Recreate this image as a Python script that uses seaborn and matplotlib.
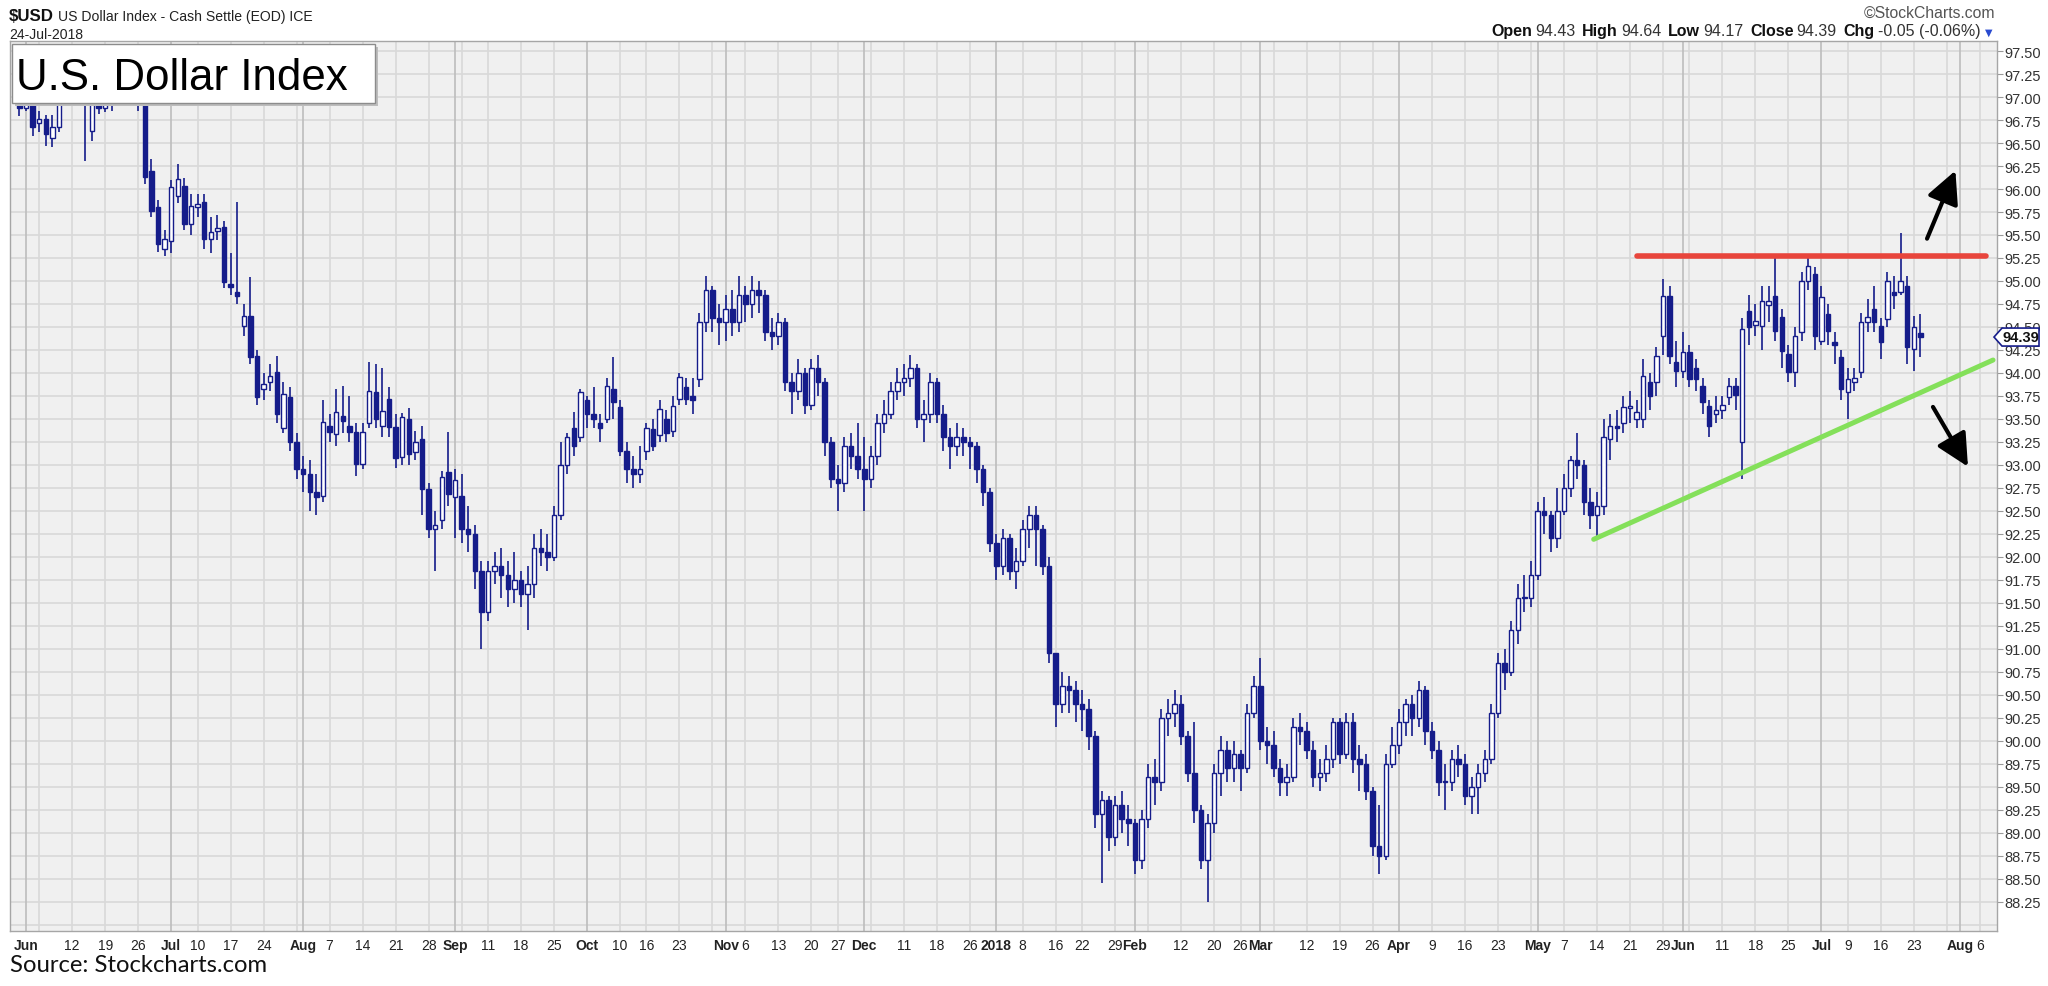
import numpy as np
import pandas as pd
import matplotlib
matplotlib.use("Agg")
import matplotlib.pyplot as plt
import matplotlib.transforms as mtransforms
from matplotlib.patches import Rectangle, Polygon
from matplotlib import font_manager as fm
import seaborn as sns

# ------------------------------------------------------------------ data
first_date = "2017-05-31"
calendar_end = "2018-08-10"
holidays = ["2017-07-04", "2017-09-04", "2017-10-09", "2017-11-23", "2017-12-25",
            "2018-01-01", "2018-01-15", "2018-02-19", "2018-03-30", "2018-05-28",
            "2018-07-04"]

open_ = [
    97.10, 96.88, 97.10,
    96.72, 96.76, 96.56, 96.68, 97.05,
    97.20, 97.15, 96.98, 96.63, 97.20,
    96.88, 97.05, 97.40, 97.30, 97.20,
    97.10, 97.25, 96.20, 95.80, 95.35,
    95.43, 95.92, 96.03, 95.62,
    95.80, 95.86, 95.46, 95.54, 95.59,
    94.97, 94.88, 94.51, 94.62, 94.18,
    93.82, 93.90, 94.01, 93.40, 93.74,
    93.25, 92.95, 92.90, 92.70, 92.66,
    93.42, 93.34, 93.53, 93.42, 93.36,
    93.01, 93.45, 93.79, 93.42, 93.72,
    93.41, 93.09, 93.50, 93.14, 93.28,
    92.74, 92.30, 92.40, 92.92, 92.65,
    92.66, 92.30, 92.25, 91.85,
    91.40, 91.85, 91.90, 91.80, 91.65,
    91.75, 91.60, 91.70, 92.10, 92.05,
    92.00, 92.45, 93.00, 93.40, 93.30,
    93.70, 93.55, 93.45, 93.50, 93.83,
    93.63, 93.15, 92.95, 92.90,
    93.15, 93.39, 93.32, 93.50, 93.37,
    93.72, 93.85, 93.75, 93.93, 94.55,
    94.90, 94.60, 94.55, 94.70, 94.55,
    94.85, 94.75, 94.90, 94.85, 94.45,
    94.40, 94.55, 93.90, 93.80, 94.00,
    93.65, 94.05, 93.90, 93.25,
    92.85, 92.80, 93.20, 93.10, 92.95,
    92.85, 93.10, 93.45, 93.55, 93.80,
    93.90, 93.95, 94.05, 93.50, 93.55,
    93.90, 93.55, 93.30, 93.20, 93.30,
    93.25, 93.20, 92.95, 92.70,
    92.15, 91.90, 92.20, 91.85,
    91.95, 92.30, 92.45, 92.30, 91.90,
    90.95, 90.40, 90.60, 90.55,
    90.40, 90.35, 90.05, 89.20, 89.35,
    88.95, 89.30, 89.15, 89.10, 88.70,
    89.15, 89.60, 89.55, 90.25, 90.30,
    90.40, 90.05, 89.65, 89.25, 88.70,
    89.10, 89.65, 89.90, 89.70,
    89.85, 89.70, 90.30, 90.60, 90.00,
    89.95, 89.70, 89.55, 89.60, 90.15,
    90.10, 89.90, 89.60, 89.65, 89.80,
    90.20, 89.85, 90.20, 89.80, 89.75,
    89.45, 88.85, 88.75, 89.75,
    89.95, 90.20, 90.40, 90.25, 90.55,
    90.10, 89.90, 89.55, 89.55, 89.80,
    89.75, 89.40, 89.50, 89.65, 89.80,
    90.30, 90.85, 90.75, 91.20, 91.55,
    91.55, 91.80, 92.50, 92.45, 92.20,
    92.50, 92.75, 93.05, 93.00, 92.60,
    92.45, 92.55, 93.28, 93.42, 93.45,
    93.62, 93.50, 93.50, 93.90, 93.90,
    94.40, 94.84, 94.12, 94.02,
    94.23, 94.05, 93.86, 93.64, 93.55,
    93.60, 93.74, 93.86, 93.25, 94.67,
    94.52, 94.51, 94.74, 94.84, 94.61,
    94.21, 94.01, 94.45, 95.00, 95.08,
    94.35, 94.64, 94.34, 94.17,
    93.79, 93.90, 94.01, 94.55, 94.70,
    94.51, 94.59, 94.88, 94.88, 94.94,
    94.26, 94.43,
]

high = [
    97.20, 97.20, 97.15,
    96.85, 96.80, 96.80, 97.15, 97.30,
    97.30, 97.20, 97.05, 97.30, 97.30,
    97.35, 97.50, 97.55, 97.45, 97.35,
    97.40, 97.35, 96.33, 95.88, 95.55,
    96.10, 96.27, 96.12, 95.95,
    95.95, 95.95, 95.70, 95.72, 95.65,
    95.30, 95.86, 94.75, 95.04, 94.25,
    94.00, 94.10, 94.18, 93.90, 93.85,
    93.35, 93.10, 93.05, 92.90, 93.70,
    93.55, 93.83, 93.86, 93.75, 93.45,
    93.45, 94.12, 94.10, 94.05, 93.85,
    93.55, 93.56, 93.62, 93.37, 93.42,
    92.80, 92.50, 92.93, 93.36, 92.96,
    92.90, 92.55, 92.35, 91.95,
    91.95, 92.05, 92.10, 91.95, 92.05,
    91.85, 91.90, 92.25, 92.30, 92.25,
    92.55, 93.25, 93.35, 93.58, 93.82,
    93.75, 93.85, 93.55, 93.95, 94.17,
    93.70, 93.25, 93.10, 93.20,
    93.45, 93.50, 93.70, 93.60, 93.75,
    94.00, 93.95, 93.95, 94.65, 95.05,
    94.95, 94.75, 94.85, 94.90, 95.05,
    94.95, 95.05, 95.00, 94.90, 94.60,
    94.65, 94.60, 94.00, 94.15, 94.05,
    94.15, 94.20, 93.95, 93.30,
    93.00, 93.30, 93.35, 93.45, 93.30,
    93.20, 93.55, 93.70, 93.90, 94.05,
    94.10, 94.20, 94.10, 93.70, 94.00,
    93.95, 93.65, 93.40, 93.45, 93.40,
    93.30, 93.25, 93.00, 92.75,
    92.25, 92.30, 92.25, 92.10,
    92.40, 92.55, 92.55, 92.35, 92.00,
    90.95, 90.75, 90.70, 90.65,
    90.55, 90.45, 90.10, 89.45, 89.40,
    89.40, 89.45, 89.30, 89.15, 89.25,
    89.75, 89.80, 90.35, 90.45, 90.55,
    90.50, 90.10, 90.20, 89.30, 89.20,
    89.75, 90.05, 90.00, 90.00,
    89.90, 90.40, 90.70, 90.90, 90.15,
    90.10, 89.80, 89.75, 90.25, 90.30,
    90.20, 90.00, 89.80, 89.95, 90.25,
    90.25, 90.30, 90.30, 89.95, 89.85,
    89.50, 89.30, 89.85, 90.15,
    90.35, 90.45, 90.50, 90.65, 90.60,
    90.20, 90.00, 89.75, 89.90, 89.95,
    89.85, 89.60, 89.75, 89.90, 90.40,
    90.95, 91.00, 91.30, 91.70, 91.80,
    91.95, 92.60, 92.65, 92.50, 92.75,
    92.90, 93.10, 93.35, 93.05, 92.75,
    92.70, 93.50, 93.55, 93.60, 93.75,
    93.80, 93.70, 94.15, 94.00, 94.28,
    95.02, 94.95, 94.35, 94.45,
    94.30, 94.15, 93.95, 93.70, 93.75,
    93.75, 93.95, 93.95, 94.60, 94.85,
    94.75, 94.95, 94.95, 95.26, 94.70,
    94.30, 94.50, 95.10, 95.29, 95.15,
    94.95, 94.75, 94.45, 94.25,
    94.05, 94.05, 94.65, 94.80, 94.95,
    94.60, 95.10, 95.05, 95.52, 95.05,
    94.62, 94.64,
]

low = [
    96.79, 96.85, 96.58,
    96.62, 96.47, 96.46, 96.62, 96.95,
    97.00, 96.94, 96.30, 96.52, 96.82,
    96.84, 96.85, 97.10, 97.00, 96.95,
    96.85, 96.05, 95.70, 95.32, 95.27,
    95.30, 95.85, 95.55, 95.50,
    95.70, 95.35, 95.30, 95.45, 94.92,
    94.85, 94.75, 94.40, 94.10, 93.65,
    93.70, 93.80, 93.45, 93.35, 93.15,
    92.85, 92.70, 92.50, 92.45, 92.60,
    93.25, 93.20, 93.35, 93.25, 92.88,
    92.95, 93.40, 93.40, 93.30, 93.30,
    92.97, 93.00, 93.00, 93.05, 92.45,
    92.20, 91.85, 92.30, 92.55, 92.20,
    92.15, 92.05, 91.65, 91.00,
    91.30, 91.70, 91.55, 91.45, 91.50,
    91.45, 91.20, 91.55, 91.90, 91.85,
    91.95, 92.40, 92.90, 93.10, 93.25,
    93.40, 93.40, 93.25, 93.45, 93.50,
    93.10, 92.80, 92.75, 92.80,
    93.05, 93.15, 93.25, 93.25, 93.30,
    93.65, 93.65, 93.55, 93.85, 94.45,
    94.45, 94.30, 94.35, 94.40, 94.45,
    94.55, 94.60, 94.65, 94.35, 94.25,
    94.30, 93.80, 93.55, 93.70, 93.55,
    93.60, 93.75, 93.10, 92.75,
    92.50, 92.70, 92.95, 92.85, 92.50,
    92.75, 93.00, 93.35, 93.50, 93.70,
    93.75, 93.85, 93.40, 93.25, 93.45,
    93.45, 93.15, 92.95, 93.10, 93.10,
    92.95, 92.80, 92.55, 92.05,
    91.75, 91.80, 91.75, 91.65,
    91.90, 92.10, 91.90, 91.80, 90.85,
    90.15, 90.30, 90.30, 90.20,
    90.10, 89.90, 89.05, 88.45, 88.80,
    88.85, 89.00, 88.85, 88.55, 88.60,
    89.05, 89.30, 89.45, 90.05, 90.15,
    89.95, 89.55, 89.10, 88.60, 88.25,
    89.00, 89.40, 89.55, 89.55,
    89.45, 89.65, 90.25, 89.90, 89.75,
    89.60, 89.40, 89.40, 89.55, 89.95,
    89.80, 89.50, 89.45, 89.55, 89.70,
    89.75, 89.80, 89.65, 89.45, 89.35,
    88.75, 88.55, 88.70, 89.70,
    89.85, 90.05, 90.05, 90.15, 89.95,
    89.80, 89.40, 89.25, 89.45, 89.60,
    89.30, 89.20, 89.20, 89.55, 89.75,
    90.25, 90.55, 90.70, 91.05, 91.40,
    91.45, 91.75, 92.25, 92.05, 92.10,
    92.45, 92.65, 92.85, 92.45, 92.30,
    92.20, 92.45, 93.05, 93.25, 93.35,
    93.45, 93.40, 93.40, 93.60, 93.75,
    94.20, 94.10, 93.85, 93.95,
    93.85, 93.80, 93.55, 93.30, 93.45,
    93.50, 93.65, 93.60, 92.85, 94.30,
    94.40, 94.25, 94.55, 94.35, 94.05,
    93.90, 93.85, 94.35, 94.90, 94.25,
    94.30, 94.30, 94.10, 93.70,
    93.50, 93.80, 93.95, 94.45, 94.45,
    94.15, 94.50, 94.70, 94.85, 94.10,
    94.02, 94.17,
]

close = [
    96.88, 97.10, 96.68,
    96.76, 96.60, 96.68, 97.05, 97.20,
    97.15, 96.98, 96.96, 97.20, 96.88,
    97.25, 97.40, 97.30, 97.20, 97.10,
    97.25, 96.13, 95.76, 95.40, 95.46,
    96.02, 96.11, 95.62, 95.81,
    95.84, 95.46, 95.53, 95.58, 94.99,
    94.93, 94.84, 94.62, 94.17, 93.74,
    93.88, 93.97, 93.55, 93.77, 93.25,
    92.95, 92.90, 92.70, 92.65, 93.47,
    93.36, 93.58, 93.48, 93.36, 93.01,
    93.36, 93.80, 93.50, 93.59, 93.41,
    93.07, 93.52, 93.12, 93.25, 92.74,
    92.30, 92.35, 92.87, 92.68, 92.83,
    92.30, 92.25, 91.85, 91.40,
    91.85, 91.90, 91.80, 91.65, 91.75,
    91.60, 91.70, 92.10, 92.05, 92.00,
    92.45, 93.00, 93.30, 93.20, 93.79,
    93.55, 93.50, 93.40, 93.86, 93.68,
    93.15, 92.95, 92.90, 92.95,
    93.40, 93.21, 93.61, 93.35, 93.64,
    93.96, 93.72, 93.70, 94.55, 94.90,
    94.60, 94.55, 94.70, 94.55, 94.85,
    94.75, 94.90, 94.85, 94.45, 94.40,
    94.55, 93.90, 93.80, 94.00, 93.65,
    94.05, 93.90, 93.25, 92.85,
    92.80, 93.20, 93.10, 92.95, 92.85,
    93.10, 93.45, 93.55, 93.80, 93.90,
    93.95, 94.05, 93.50, 93.55, 93.90,
    93.55, 93.30, 93.20, 93.30, 93.25,
    93.20, 92.95, 92.70, 92.15,
    91.90, 92.20, 91.85, 91.95,
    92.30, 92.45, 92.30, 91.90, 90.95,
    90.40, 90.60, 90.55, 90.40,
    90.35, 90.05, 89.20, 89.35, 88.95,
    89.30, 89.15, 89.10, 88.70, 89.15,
    89.60, 89.55, 90.25, 90.30, 90.40,
    90.05, 89.65, 89.25, 88.70, 89.10,
    89.65, 89.90, 89.70, 89.85,
    89.70, 90.30, 90.60, 90.00, 89.95,
    89.70, 89.55, 89.60, 90.15, 90.10,
    89.90, 89.60, 89.65, 89.80, 90.20,
    89.85, 90.20, 89.80, 89.75, 89.45,
    88.85, 88.75, 89.75, 89.95,
    90.20, 90.40, 90.25, 90.55, 90.10,
    89.90, 89.55, 89.55, 89.80, 89.75,
    89.40, 89.50, 89.65, 89.80, 90.30,
    90.85, 90.75, 91.20, 91.55, 91.55,
    91.80, 92.50, 92.45, 92.20, 92.50,
    92.75, 93.05, 93.00, 92.60, 92.45,
    92.55, 93.30, 93.42, 93.40, 93.63,
    93.64, 93.58, 93.97, 93.75, 94.18,
    94.84, 94.18, 94.02, 94.23,
    93.93, 93.93, 93.68, 93.42, 93.60,
    93.65, 93.86, 93.76, 94.48, 94.50,
    94.56, 94.78, 94.78, 94.46, 94.24,
    94.01, 94.40, 95.00, 95.16, 94.40,
    94.83, 94.46, 94.30, 93.83,
    93.93, 93.94, 94.55, 94.61, 94.55,
    94.34, 95.00, 94.85, 95.00, 94.28,
    94.50, 94.39,
]

x_labels = [
    ("2017-06-01", "Jun", True), ("2017-06-12", "12", False), ("2017-06-19", "19", False),
    ("2017-06-26", "26", False), ("2017-07-03", "Jul", True), ("2017-07-10", "10", False),
    ("2017-07-17", "17", False), ("2017-07-24", "24", False), ("2017-08-01", "Aug", True),
    ("2017-08-07", "7", False), ("2017-08-14", "14", False), ("2017-08-21", "21", False),
    ("2017-08-28", "28", False), ("2017-09-01", "Sep", True), ("2017-09-11", "11", False),
    ("2017-09-18", "18", False), ("2017-09-25", "25", False), ("2017-10-02", "Oct", True),
    ("2017-10-10", "10", False), ("2017-10-16", "16", False), ("2017-10-23", "23", False),
    ("2017-11-01", "Nov", True), ("2017-11-06", "6", False), ("2017-11-13", "13", False),
    ("2017-11-20", "20", False), ("2017-11-27", "27", False), ("2017-12-01", "Dec", True),
    ("2017-12-11", "11", False), ("2017-12-18", "18", False), ("2017-12-26", "26", False),
    ("2018-01-02", "2018", True), ("2018-01-08", "8", False), ("2018-01-16", "16", False),
    ("2018-01-22", "22", False), ("2018-01-29", "29", False), ("2018-02-01", "Feb", True),
    ("2018-02-12", "12", False), ("2018-02-20", "20", False), ("2018-02-26", "26", False),
    ("2018-03-01", "Mar", True), ("2018-03-12", "12", False), ("2018-03-19", "19", False),
    ("2018-03-26", "26", False), ("2018-04-02", "Apr", True), ("2018-04-09", "9", False),
    ("2018-04-16", "16", False), ("2018-04-23", "23", False), ("2018-05-01", "May", True),
    ("2018-05-07", "7", False), ("2018-05-14", "14", False), ("2018-05-21", "21", False),
    ("2018-05-29", "29", False), ("2018-06-01", "Jun", True), ("2018-06-11", "11", False),
    ("2018-06-18", "18", False), ("2018-06-25", "25", False), ("2018-07-02", "Jul", True),
    ("2018-07-09", "9", False), ("2018-07-16", "16", False), ("2018-07-23", "23", False),
    ("2018-08-01", "Aug", True), ("2018-08-06", "6", False),
]
y_ticks = [88.25 + 0.25 * k for k in range(38)]

resistance_level = 95.27
resistance_span = (245.1, 298.0)
support_pts = [(238.5, 92.19), (299.0, 94.14)]
arrow_up = [(289.0, 95.46), (293.3, 96.20)]
arrow_down = [(289.9, 93.63), (295.2, 92.98)]

title_text = "U.S. Dollar Index"
source_text = "Source: Stockcharts.com"
symbol = "$USD"
symbol_desc = "US Dollar Index - Cash Settle (EOD) ICE"
date_text = "24-Jul-2018"
brand = "\u00a9StockCharts.com"
ohlc_row = [("Open", "94.43"), ("High", "94.64"), ("Low", "94.17"),
            ("Close", "94.39"), ("Chg", "-0.05 (-0.06%)")]
last_price = "94.39"

# ------------------------------------------------------------------ style
sns.set_style("white")
names = {f.name for f in fm.fontManager.ttflist}
NARROW = "Liberation Sans Narrow" if "Liberation Sans Narrow" in names else "Liberation Sans"
plt.rcParams["font.family"] = ["Liberation Sans", "DejaVu Sans"]

W, H = 2048, 987
AX_L, AX_R, AX_T, AX_B = 10, 1997, 42, 932
NAVY = "#151c8a"

fig = plt.figure(figsize=(W / 100, H / 100), dpi=100)
fig.patch.set_facecolor("white")
ax = fig.add_axes([AX_L / W, (H - AX_B) / H, (AX_R - AX_L) / W, (AX_B - AX_T) / H])
ax.set_facecolor("#f0f0f0")
ax.set_xlim(-1.42, 299.6)
ax.set_ylim(87.93, 97.61)

cal = pd.bdate_range(first_date, calendar_end)
cal = cal[~cal.isin(pd.to_datetime(holidays))]
cal_s = pd.Series(cal)
first_week = ~cal_s.dt.to_period("W-SUN").duplicated()
first_month = ~cal_s.dt.to_period("M").duplicated()

# grid
for v in np.arange(88.0, 97.51, 0.25):
    ax.axhline(v, color="#d9d9d9", lw=1.2, zorder=0)
for i in range(1, len(cal)):
    if first_month.iloc[i]:
        ax.axvline(i, color="#bdbdbd", lw=1.2, zorder=0)
    elif first_week.iloc[i]:
        ax.axvline(i, color="#d9d9d9", lw=1.2, zorder=0)

# candles
o = np.array(open_); h = np.array(high); l = np.array(low); c = np.array(close)
pos = np.arange(len(c))
h = np.maximum(h, np.maximum(o, c)); l = np.minimum(l, np.minimum(o, c))
ax.vlines(pos, l, h, color=NAVY, lw=1.2, zorder=2)
bottom = np.minimum(o, c)
height = np.maximum(np.abs(c - o), 0.014)
up = c > o
ax.bar(pos[up], height[up], bottom=bottom[up], width=0.68, facecolor="white",
       edgecolor=NAVY, linewidth=1.0, zorder=3)
ax.bar(pos[~up], height[~up], bottom=bottom[~up], width=0.68, facecolor=NAVY,
       edgecolor=NAVY, linewidth=1.0, zorder=3)

# trend lines
sns.lineplot(x=list(resistance_span), y=[resistance_level] * 2, ax=ax,
             color="#e8453c", linewidth=4.0, zorder=5)
sns.lineplot(x=[p[0] for p in support_pts], y=[p[1] for p in support_pts], ax=ax,
             color="#84e05a", linewidth=3.6, zorder=5)
for tail, head in (arrow_up, arrow_down):
    ax.annotate("", xy=head, xytext=tail,
                arrowprops=dict(arrowstyle="-|>,head_length=0.9,head_width=0.45",
                                lw=3.0, color="black", mutation_scale=22,
                                shrinkA=0, shrinkB=0), zorder=6)

# axes
for s in ax.spines.values():
    s.set_color("#a6a6a6"); s.set_linewidth(1.0)
ax.yaxis.tick_right()
ax.set_yticks(y_ticks)
ax.set_yticklabels([f"{v:.2f}" for v in y_ticks])
ax.tick_params(axis="y", length=4, width=0.8, color="#999999", pad=1,
               labelsize=10.5, labelcolor="#333333")
xpos = [cal.get_loc(pd.Timestamp(d)) for d, _, _ in x_labels]
ax.set_xticks(xpos)
ax.set_xticklabels([t for _, t, _ in x_labels])
ax.tick_params(axis="x", length=0, pad=5, labelsize=11.5 if NARROW != "Liberation Sans" else 10,
               labelcolor="#222222")
for tl, (_, _, b) in zip(ax.get_xticklabels(), x_labels):
    tl.set_family(NARROW)
    if b:
        tl.set_fontweight("bold")
ax.set_xlabel(""); ax.set_ylabel("")

# ------------------------------------------------------------------ texts
ID = mtransforms.IdentityTransform()
R = fig.canvas.get_renderer()

def txt(x, ytop, s, size, **kw):
    return fig.text(x, H - ytop, s, fontsize=size, transform=ID, **kw)

def wid(t):
    return t.get_window_extent(renderer=R).width

def fit(t, target):
    t.set_fontsize(t.get_fontsize() * target / wid(t))

t = txt(9, 21, symbol, 12, fontweight="bold", family=NARROW, va="baseline", color="#111111")
fit(t, 45)
t = txt(58, 21, symbol_desc, 11, family=NARROW, va="baseline", color="#222222")
fit(t, 254)
t = txt(9, 39, date_text, 10, family=NARROW, va="baseline", color="#222222")
fit(t, 74)
t = txt(1995, 18, brand, 10, family=NARROW, va="baseline", ha="right", color="#555555")
fit(t, 132)

# OHLC row, right aligned
pieces = []
for lab, val in ohlc_row:
    pieces.append((lab, "bold", "#111111", 3))
    pieces.append((val, "normal", "#333333", 7))
size = 11.5
arts = []
for s, w, col, gap in pieces:
    a = txt(0, 36, s, size, fontweight=w, family=NARROW, va="baseline", color=col)
    arts.append((a, gap))
tri = txt(0, 36, "\u25bc", 7, family="DejaVu Sans", va="baseline", color="#2a4bd0")
total = sum(wid(a) + g for a, g in arts) + wid(tri)
x = 1995 - total
for a, g in arts:
    a.set_x(x)
    x += wid(a) + g
tri.set_x(x - 3)

# title box
fig.add_artist(Rectangle((15, H - 107), 363, 59, transform=ID, facecolor="#bdbdbd",
                         edgecolor="none", zorder=9))
fig.add_artist(Rectangle((12, H - 104), 363, 59, transform=ID, facecolor="white",
                         edgecolor="#8c8c8c", lw=1.0, zorder=10))
tt = fig.text(16, H - 90, title_text, transform=ID, fontsize=31.5, va="baseline",
              color="black", zorder=11)
fit(tt, 332)

# last price tag
yp = ax.transData.transform((0, close[-1]))[1]
pts = [(1994, yp), (2002, yp + 9), (2039, yp + 9), (2039, yp - 9), (2002, yp - 9)]
fig.add_artist(Polygon(pts, closed=True, transform=ID, facecolor="white",
                       edgecolor=NAVY, lw=1.2, zorder=10))
fig.text(2021, yp, last_price, transform=ID, ha="center", va="center", fontsize=10.5,
         fontweight="bold", color="#111111", zorder=11)

# source
src = fig.text(10, H - 966, source_text, transform=ID, fontsize=16, va="center",
               family=["Lato", "DejaVu Sans"], color="#111111")
fit(src, 258)

fig.savefig("out.png", dpi=100, facecolor="white")
